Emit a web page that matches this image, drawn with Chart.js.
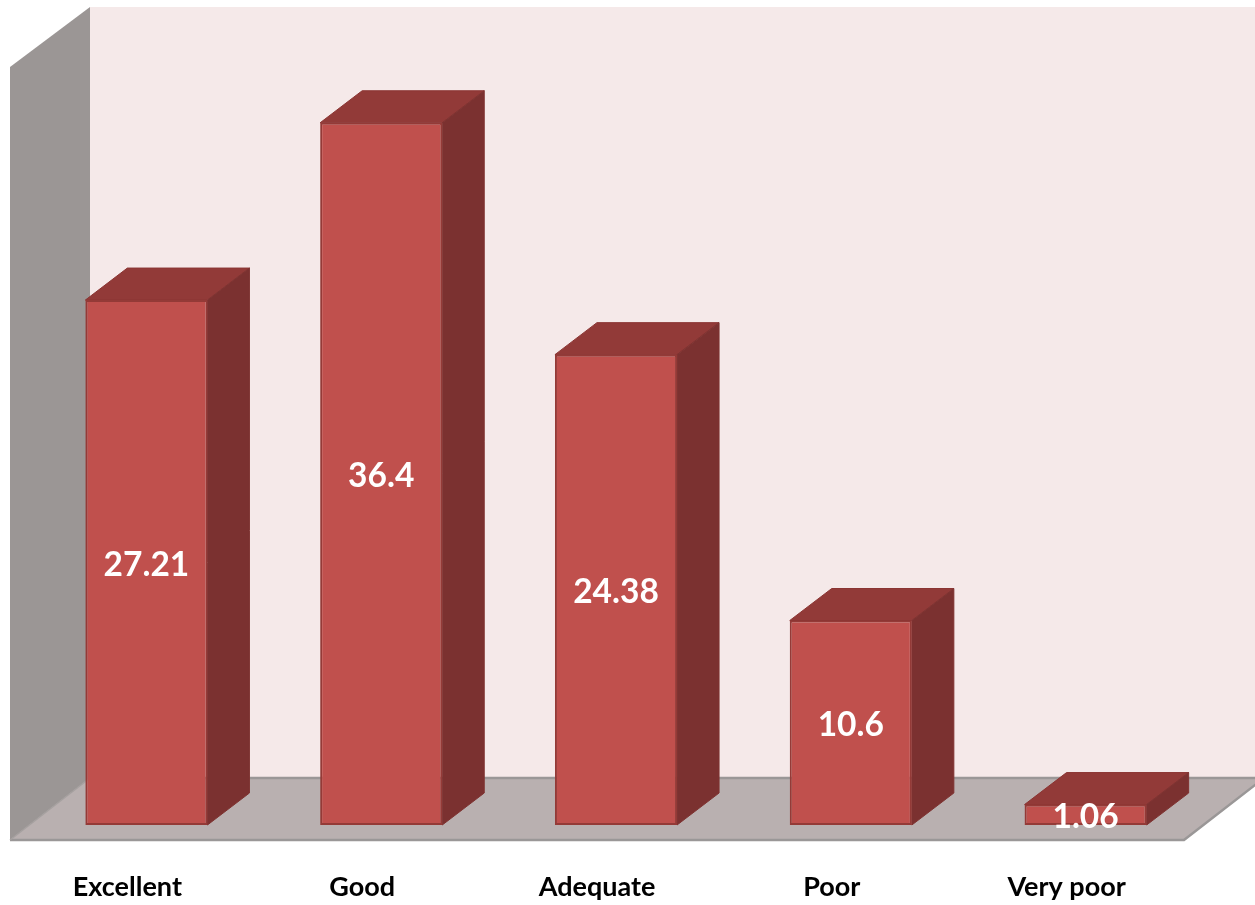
<!DOCTYPE html>
<html>
<head>
<meta charset="utf-8">
<title>Rating chart</title>
<script src="https://cdn.jsdelivr.net/npm/chart.js@4/dist/chart.umd.min.js"></script>
<style>
  html, body { margin: 0; padding: 0; background: #fff; }
  canvas { display: block; }
</style>
</head>
<body>
<canvas id="ratingChart" width="1255" height="905"></canvas>
<script>
const categories = ["Excellent", "Good", "Adequate", "Poor", "Very poor"];
const percentages = [27.21, 36.4, 24.38, 10.6, 1.06];

// extrusion of each bar, and of the box the bars stand in
const barDepthX = 42;
const barDepthY = 32;
const wallDepthX = 80;
const wallDepthY = 61;
const floorDrop = 15;

function fillShape(ctx, points, fill, stroke, lineWidth) {
  ctx.beginPath();
  points.forEach((p, i) => i ? ctx.lineTo(p[0], p[1]) : ctx.moveTo(p[0], p[1]));
  ctx.closePath();
  ctx.fillStyle = fill;
  ctx.fill();
  if (stroke) {
    ctx.strokeStyle = stroke;
    ctx.lineWidth = lineWidth || 1;
    ctx.lineJoin = "round";
    ctx.stroke();
  }
}

// back wall, side wall and floor, worked out from the axes
const boxPlugin = {
  id: "box",
  beforeDatasetsDraw(chart) {
    const ctx = chart.ctx;
    const xs = chart.scales.x;
    const ys = chart.scales.y;
    const left = xs.left - 19;
    const right = xs.right - 19;
    const top = ys.top;
    const front = ys.getPixelForValue(0) + floorDrop;
    const back = front - wallDepthY - 1;

    ctx.save();
    fillShape(ctx, [[left + wallDepthX, top], [chart.width, top], [chart.width, back], [left + wallDepthX, back]], "#f5e9e9");
    fillShape(ctx, [[left, top + wallDepthY - 1], [left + wallDepthX, top], [left + wallDepthX, back], [left, front]], "#9b9695");
    fillShape(ctx, [[left, front], [left + wallDepthX, back], [right + wallDepthX, back], [right, front]], "#b9b0b0");

    ctx.strokeStyle = "#9a9797";
    ctx.lineWidth = 2.5;
    ctx.beginPath();
    ctx.moveTo(left + wallDepthX, back);
    ctx.lineTo(chart.width, back);
    ctx.stroke();
    ctx.beginPath();
    ctx.moveTo(left, front);
    ctx.lineTo(right, front);
    ctx.lineTo(right + wallDepthX, back);
    ctx.stroke();
    ctx.lineWidth = 1.5;
    ctx.strokeStyle = "#a5a09f";
    ctx.beginPath();
    ctx.moveTo(left, front);
    ctx.lineTo(left + wallDepthX, back);
    ctx.stroke();
    ctx.restore();

    // top and side face of each bar, behind the front face
    ctx.save();
    chart.getDatasetMeta(0).data.forEach(bar => {
      const l = bar.x - bar.width / 2;
      const r = bar.x + bar.width / 2;
      const t = bar.y;
      const b = bar.base;
      fillShape(ctx, [[l, t], [l + barDepthX, t - barDepthY], [r + barDepthX, t - barDepthY], [r, t]], "#923a38", "#8b3533", 1);
      fillShape(ctx, [[r, t], [r + barDepthX, t - barDepthY], [r + barDepthX, b - barDepthY], [r, b]], "#7b3130", "#7f3331", 1);
    });
    ctx.restore();
  }
};

// value printed in the middle of each bar
const valueLabels = {
  id: "valueLabels",
  afterDatasetsDraw(chart) {
    const ctx = chart.ctx;
    ctx.save();
    ctx.font = "bold 33.5px Lato";
    ctx.fillStyle = "#ffffff";
    ctx.textAlign = "center";
    ctx.textBaseline = "middle";
    chart.getDatasetMeta(0).data.forEach((bar, i) => {
      ctx.fillText(String(percentages[i]), bar.x, (bar.y + bar.base) / 2 + 2.5);
    });
    ctx.restore();
  }
};

new Chart(document.getElementById("ratingChart").getContext("2d"), {
  type: "bar",
  data: {
    labels: categories,
    datasets: [{
      data: percentages,
      backgroundColor: "#c0504d",
      borderColor: "#943a37",
      borderWidth: 2,
      borderSkipped: false,
      barPercentage: 0.52,
      categoryPercentage: 1
    }]
  },
  options: {
    responsive: false,
    animation: false,
    layout: { padding: { left: 29, right: 52, top: 7, bottom: 0 } },
    plugins: {
      legend: { display: false },
      tooltip: { enabled: false }
    },
    scales: {
      x: {
        border: { display: false },
        grid: { display: false, drawTicks: false },
        afterFit(scale) { scale.height = 80; },
        ticks: {
          color: "#000000",
          padding: 46,
          labelOffset: -19,
          maxRotation: 0,
          font: { family: "Lato", size: 27, weight: "bold" }
        }
      },
      y: {
        display: false,
        min: 0,
        max: 42.4
      }
    }
  },
  plugins: [boxPlugin, valueLabels]
});
</script>
</body>
</html>
